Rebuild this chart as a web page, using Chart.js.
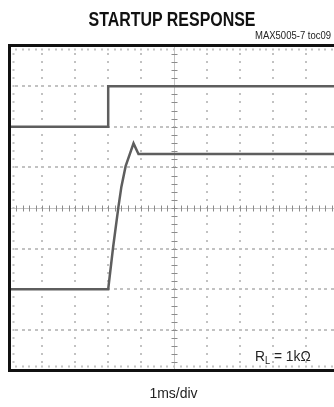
<!DOCTYPE html>
<html>
<head>
<meta charset="utf-8">
<script src="https://cdn.jsdelivr.net/npm/chart.js@4/dist/chart.umd.min.js"></script>
<style>
  html, body { margin: 0; padding: 0; background: #fff; }
  body { width: 334px; height: 407px; overflow: hidden; position: relative; }
  #scope { position: absolute; left: 0; top: 0; }
  .txt { position: absolute; white-space: nowrap; color: #111; font-family: "Liberation Sans", Arial, sans-serif; line-height: 1; }
  #title { left: 0; width: 344px; top: 8px; text-align: center; font-weight: bold; font-size: 21px; transform: scaleX(0.76); transform-origin: 172px 0; }
  #code { left: 255px; top: 31px; font-size: 10px; color: #222; transform: scaleX(0.95); transform-origin: 0 0; }
  #load { left: 255px; top: 348px; font-size: 15px; color: #222; transform: scaleX(0.92); transform-origin: 0 0; }
  #load sub { font-size: 10px; vertical-align: -3px; line-height: 0; }
  #xlabel { left: 0; width: 347px; top: 386px; text-align: center; font-size: 14px; color: #222; }
</style>
</head>
<body>
<canvas id="scope" width="350" height="407"></canvas>
<div class="txt" id="title">STARTUP RESPONSE</div>
<div class="txt" id="code">MAX5005-7 toc09</div>
<div class="txt" id="load">R<sub>L</sub> = 1kΩ</div>
<div class="txt" id="xlabel">1ms/div</div>
<script>
// Time axis in ms (1 ms per division, 10 divisions), vertical axis in divisions.
const timeDivs = [-5, -4, -3, -2, -1, 0, 1, 2, 3, 4, 5];
const levelDivs = [-4, -3, -2, -1, 0, 1, 2, 3, 4];

// Upper trace: enable signal stepping up by one division.
const enableTime = [-5, -2.0, -2.0, 5];
const enableLevel = [2, 2, 3, 3];

// Lower trace: output rising with a small overshoot, then settling.
const outputTime = [-5, -2.0, -1.85, -1.69, -1.60, -1.47, -1.23, -1.08, 5];
const outputLevel = [-2, -2, -0.96, 0.02, 0.52, 1.03, 1.59, 1.33, 1.33];

function toPoints(xs, ys) {
  return xs.map((x, i) => ({ x: x, y: ys[i] }));
}

// Oscilloscope graticule: dotted division lines, ticked centre cross, frame.
const graticule = {
  id: 'graticule',
  beforeDatasetsDraw(chart) {
    const { ctx, chartArea: a, scales: { x, y } } = chart;
    const xStep = x.getPixelForValue(1) - x.getPixelForValue(0);
    const yStep = y.getPixelForValue(0) - y.getPixelForValue(1);
    ctx.save();
    ctx.fillStyle = '#fff';
    ctx.fillRect(a.left, a.top, a.right - a.left, a.bottom - a.top);

    // dotted vertical division lines
    ctx.fillStyle = '#c2c2c2';
    timeDivs.forEach(t => {
      if (t === 0 || t === -5 || t === 5) return;
      const px = Math.round(x.getPixelForValue(t));
      for (let py = a.top + yStep / 5; py < a.bottom - 1; py += yStep / 5) {
        ctx.fillRect(px - 1, Math.round(py) - 1, 2, 2);
      }
    });
    // dotted horizontal division lines
    levelDivs.forEach(v => {
      if (v === 0 || v === -4 || v === 4) return;
      const py = Math.round(y.getPixelForValue(v));
      for (let px = a.left + xStep / 5; px < a.right - 1; px += xStep / 5) {
        ctx.fillRect(Math.round(px) - 1, py - 1, 3, 2);
      }
    });

    // centre cross with minor ticks
    const cx = Math.round(x.getPixelForValue(0)) + 0.5;
    const cy = Math.round(y.getPixelForValue(0)) + 0.5;
    ctx.strokeStyle = '#c4c4c4';
    ctx.lineWidth = 1;
    ctx.beginPath();
    ctx.moveTo(cx, a.top); ctx.lineTo(cx, a.bottom);
    ctx.moveTo(a.left, cy); ctx.lineTo(a.right, cy);
    ctx.stroke();
    ctx.strokeStyle = '#8c8c8c';
    ctx.beginPath();
    for (let py = a.top + yStep / 5; py < a.bottom - 1; py += yStep / 5) {
      const r = Math.round(py) + 0.5;
      ctx.moveTo(cx - 3, r); ctx.lineTo(cx + 3, r);
    }
    for (let px = a.left + xStep / 5; px < a.right - 1; px += xStep / 5) {
      const r = Math.round(px) + 0.5;
      ctx.moveTo(r, cy - 3); ctx.lineTo(r, cy + 3);
    }
    ctx.stroke();

    // minor ticks along the inner edges
    ctx.fillStyle = '#c4c4c4';
    for (let px = a.left + xStep / 5; px < a.right - 1; px += xStep / 5) {
      ctx.fillRect(Math.round(px) - 1, a.top + 3, 2, 2);
      ctx.fillRect(Math.round(px) - 1, a.bottom - 5, 2, 2);
    }
    for (let py = a.top + yStep / 5; py < a.bottom - 1; py += yStep / 5) {
      ctx.fillRect(a.left + 3, Math.round(py) - 1, 2, 2);
    }
    ctx.restore();
  },
  afterDraw(chart) {
    const { ctx, chartArea: a } = chart;
    ctx.save();
    ctx.strokeStyle = '#111';
    ctx.lineWidth = 3;
    ctx.strokeRect(a.left, a.top, a.right - a.left, a.bottom - a.top);
    ctx.restore();
  }
};

new Chart(document.getElementById('scope'), {
  type: 'scatter',
  data: {
    datasets: [
      { data: toPoints(enableTime, enableLevel) },
      { data: toPoints(outputTime, outputLevel) }
    ]
  },
  options: {
    responsive: false,
    animation: false,
    events: [],
    layout: { padding: { left: 9.5, right: 11.5, top: 45.5, bottom: 36.5 } },
    elements: {
      line: { borderColor: '#5e5e5e', borderWidth: 2.5, tension: 0, borderJoinStyle: 'miter' },
      point: { radius: 0 }
    },
    datasets: { scatter: { showLine: true } },
    plugins: { legend: { display: false }, tooltip: { enabled: false }, title: { display: false } },
    scales: {
      x: { type: 'linear', min: -5, max: 5, display: false },
      y: { type: 'linear', min: -4, max: 4, display: false }
    }
  },
  plugins: [graticule]
});
</script>
</body>
</html>
